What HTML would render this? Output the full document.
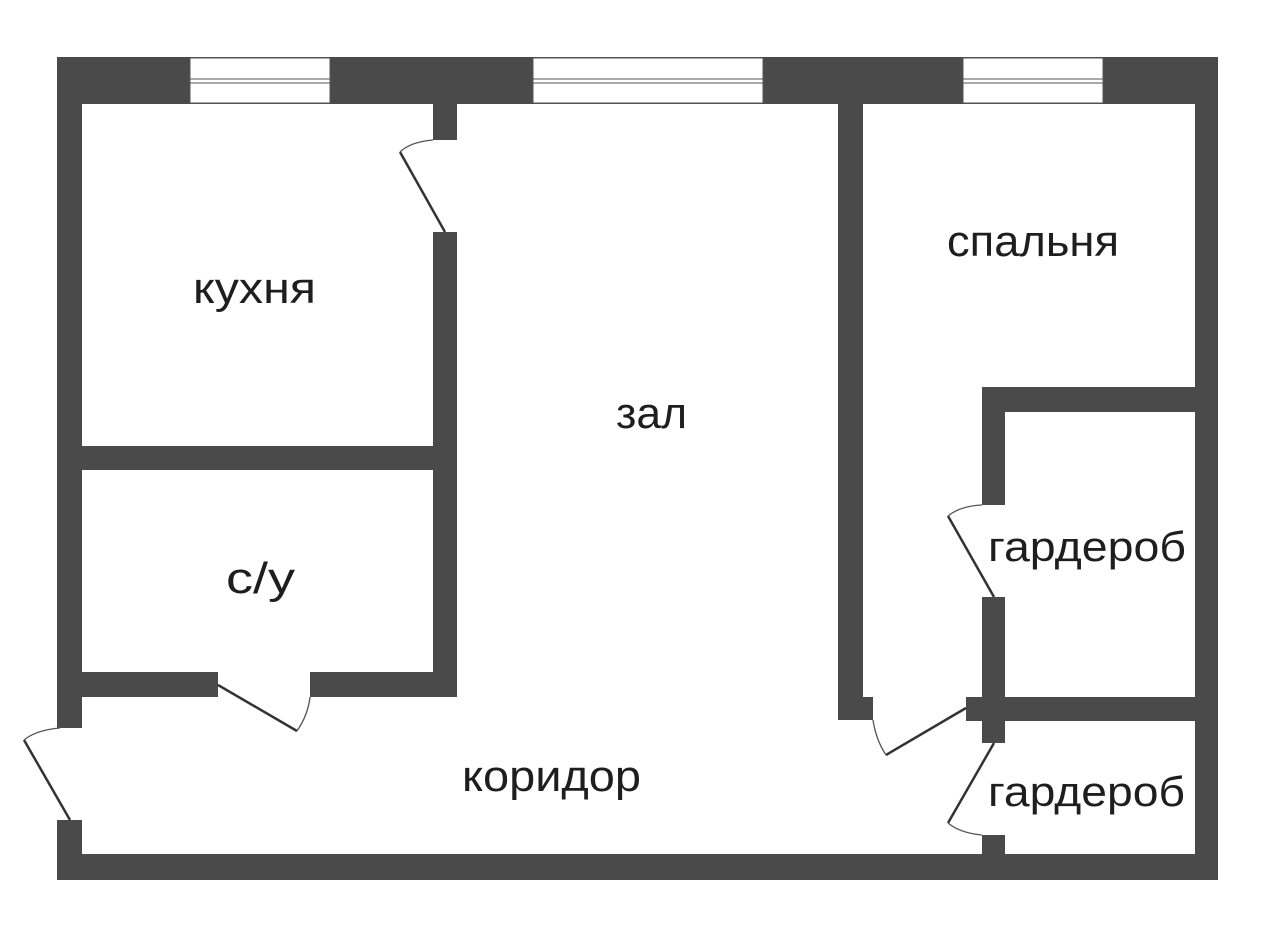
<!DOCTYPE html>
<html><head><meta charset="utf-8"><style>
html,body{margin:0;padding:0;background:#fff;width:1280px;height:939px;overflow:hidden}
svg text{font-family:"Liberation Sans","DejaVu Sans",sans-serif;fill:#1e1e1e}
</style></head><body>
<svg width="1280" height="939" viewBox="0 0 1280 939" xmlns="http://www.w3.org/2000/svg">
<g fill="#4a4a4a">
<rect x="57" y="57" width="1161" height="47"/>
<rect x="57" y="57" width="25" height="671"/>
<rect x="57" y="820" width="25" height="60"/>
<rect x="57" y="854" width="1161" height="26"/>
<rect x="1195" y="57" width="23" height="823"/>
<rect x="433" y="104" width="24" height="36"/>
<rect x="433" y="232" width="24" height="465"/>
<rect x="82" y="446" width="351" height="24"/>
<rect x="82" y="672" width="136" height="25"/>
<rect x="310" y="672" width="147" height="25"/>
<rect x="838" y="104" width="25" height="616"/>
<rect x="838" y="697" width="35" height="23"/>
<rect x="982" y="387" width="213" height="25"/>
<rect x="982" y="387" width="23" height="118"/>
<rect x="982" y="597" width="23" height="100"/>
<rect x="966" y="697" width="229" height="24"/>
<rect x="982" y="721" width="23" height="22"/>
<rect x="982" y="835" width="23" height="20"/>
</g>
<g fill="#fff" stroke="#555" stroke-width="1">
<rect x="190" y="58" width="140" height="45"/>
<rect x="533" y="58" width="230" height="45"/>
<rect x="963" y="58" width="140" height="45"/>
<rect x="190" y="79" width="140" height="4"/>
<rect x="533" y="79" width="230" height="4"/>
<rect x="963" y="79" width="140" height="4"/>
</g>
<g fill="none" stroke="#333" stroke-width="2.5">
<line x1="445" y1="232" x2="400" y2="152"/>
<line x1="218" y1="685" x2="297" y2="731"/>
<line x1="70" y1="820" x2="24" y2="740"/>
<line x1="966" y1="708" x2="886" y2="755"/>
<line x1="994" y1="597" x2="948" y2="516"/>
<line x1="994" y1="743" x2="948" y2="823"/>
</g>
<g fill="none" stroke="#555" stroke-width="1.3">
<path d="M400 152 Q410 142 433 140"/>
<path d="M297 731 Q308 715 310 697"/>
<path d="M24 740 Q36 730 60 728"/>
<path d="M886 755 Q876 740 873 720"/>
<path d="M948 516 Q960 506 982 505"/>
<path d="M948 823 Q960 833 982 835"/>
</g>
<g font-size="44" lengthAdjust="spacingAndGlyphs">
<text x="193" y="303" textLength="123" lengthAdjust="spacingAndGlyphs">кухня</text>
<text x="616" y="428" textLength="71" lengthAdjust="spacingAndGlyphs">зал</text>
<text x="947" y="256" textLength="172" lengthAdjust="spacingAndGlyphs">спальня</text>
<text x="226" y="593" textLength="69" lengthAdjust="spacingAndGlyphs">с/у</text>
<text x="462" y="791" textLength="179" lengthAdjust="spacingAndGlyphs">коридор</text>
<text x="988" y="561" font-size="42" textLength="198" lengthAdjust="spacingAndGlyphs">гардероб</text>
<text x="988" y="806" font-size="42" textLength="197" lengthAdjust="spacingAndGlyphs">гардероб</text>
</g>
</svg>
</body></html>
